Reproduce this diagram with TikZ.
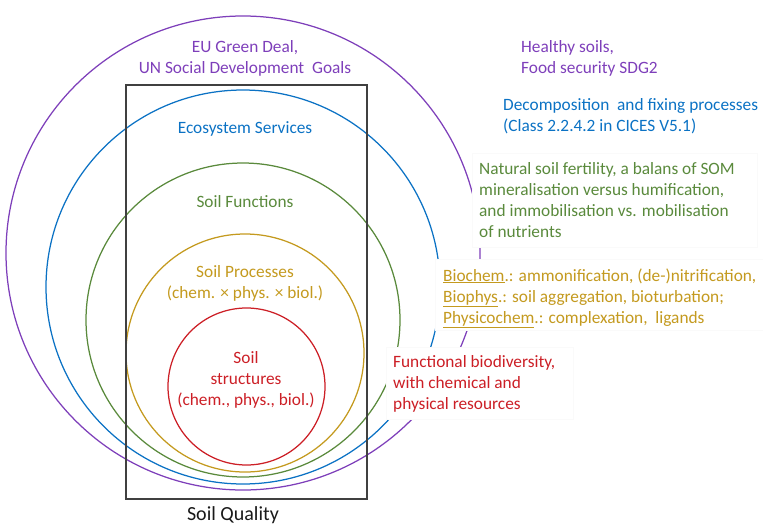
\documentclass[tikz,border=0pt]{standalone}
\usepackage{fontspec}
\setmainfont{Carlito}
\definecolor{cpurple}{HTML}{7E3FBA}
\definecolor{cblue}{HTML}{0B72C4}
\definecolor{cgreen}{HTML}{5A8A3C}
\definecolor{cyellow}{HTML}{C49A1F}
\definecolor{cred}{HTML}{CC1F26}
\definecolor{cframe}{HTML}{404040}
\tikzset{
  ring/.style={circle, draw=#1, line width=1.25pt, inner sep=0pt},
  txt/.style={font=\fontsize{17.3}{21}\selectfont, inner sep=0pt, text=#1},
  lt/.style={txt=#1, anchor=base west},
  ct/.style={txt=#1, anchor=base},
  cover/.style={fill=white, draw=black!2, line width=0.4pt}
}
\begin{document}
\begin{tikzpicture}[x=1pt,y=-1pt]
\useasboundingbox (0,0) rectangle (763,525);
% rings
\node[ring=cpurple, minimum size=474pt] (rpurple) at (243,253) {};
\node[ring=cblue, minimum size=394pt] (rblue) at (243,287) {};
\node[ring=cgreen, minimum size=314pt] (rgreen) at (243,320) {};
\node[ring=cyellow, minimum size=238pt] (ryellow) at (245,353) {};
\node[ring=cred, minimum size=157pt] (rred) at (246.5,386.5) {};
% quality frame
\node[draw=cframe, line width=1.8pt, minimum width=241pt, minimum height=414pt, inner sep=0pt] (frame) at (246.5,292) {};
% white label boxes
\path[cover] (472,153) rectangle (757,247);
\path[cover] (435,259) rectangle (765,330);
\path[cover] (386,347) rectangle (573,419);
% texts inside rings
\node[ct=cpurple] (eu1) at (245,52) {EU Green Deal,};
\node[ct=cpurple] (eu2) at (245,73) {UN Social Development\ \ Goals};
\node[ct=cblue] (es) at (245,133) {Ecosystem Services};
\node[ct=cgreen] (sf) at (245,207) {Soil Functions};
\node[ct=cyellow] (sp1) at (245,277) {Soil Processes};
\node[ct=cyellow] (sp2) at (245,298) {(chem. × phys. × biol.)};
\node[ct=cred] (ss1) at (246,363) {Soil};
\node[ct=cred] (ss2) at (246,384) {structures};
\node[ct=cred] (ss3) at (246,405) {(chem., phys., biol.)};
\node[ct=black!90, font=\fontsize{20}{24}\selectfont] (sq) at (233,520) {Soil Quality};
% right-hand texts
\node[lt=cpurple] (hs1) at (521,52) {Healthy soils,};
\node[lt=cpurple] (hs2) at (521,73) {Food security SDG2};
\node[lt=cblue] (dc1) at (503,110) {Decomposition\ \ and fixing processes};
\node[lt=cblue] (dc2) at (503,131) {(Class 2.2.4.2 in CICES V5.1)};
\node[lt=cgreen] (nf1) at (479,174) {Natural soil fertility, a balans of SOM};
\node[lt=cgreen] (nf2) at (479,195) {mineralisation versus humification,};
\node[lt=cgreen] (nf3) at (479,216) {and immobilisation vs. mobilisation};
\node[lt=cgreen] (nf4) at (479,237) {of nutrients};
\node[lt=cyellow] (bc1) at (443,281) {\underline{Biochem}.: ammonification, (de-)nitrification,};
\node[lt=cyellow] (bc2) at (443,302) {\underline{Biophys}.: soil aggregation, bioturbation;};
\node[lt=cyellow] (bc3) at (443,323) {\underline{Physicochem}.: complexation,\ \ ligands};
\node[lt=cred] (fb1) at (393,367) {Functional biodiversity,};
\node[lt=cred] (fb2) at (393,388) {with chemical and};
\node[lt=cred] (fb3) at (393,409) {physical resources};
\end{tikzpicture}
\end{document}
